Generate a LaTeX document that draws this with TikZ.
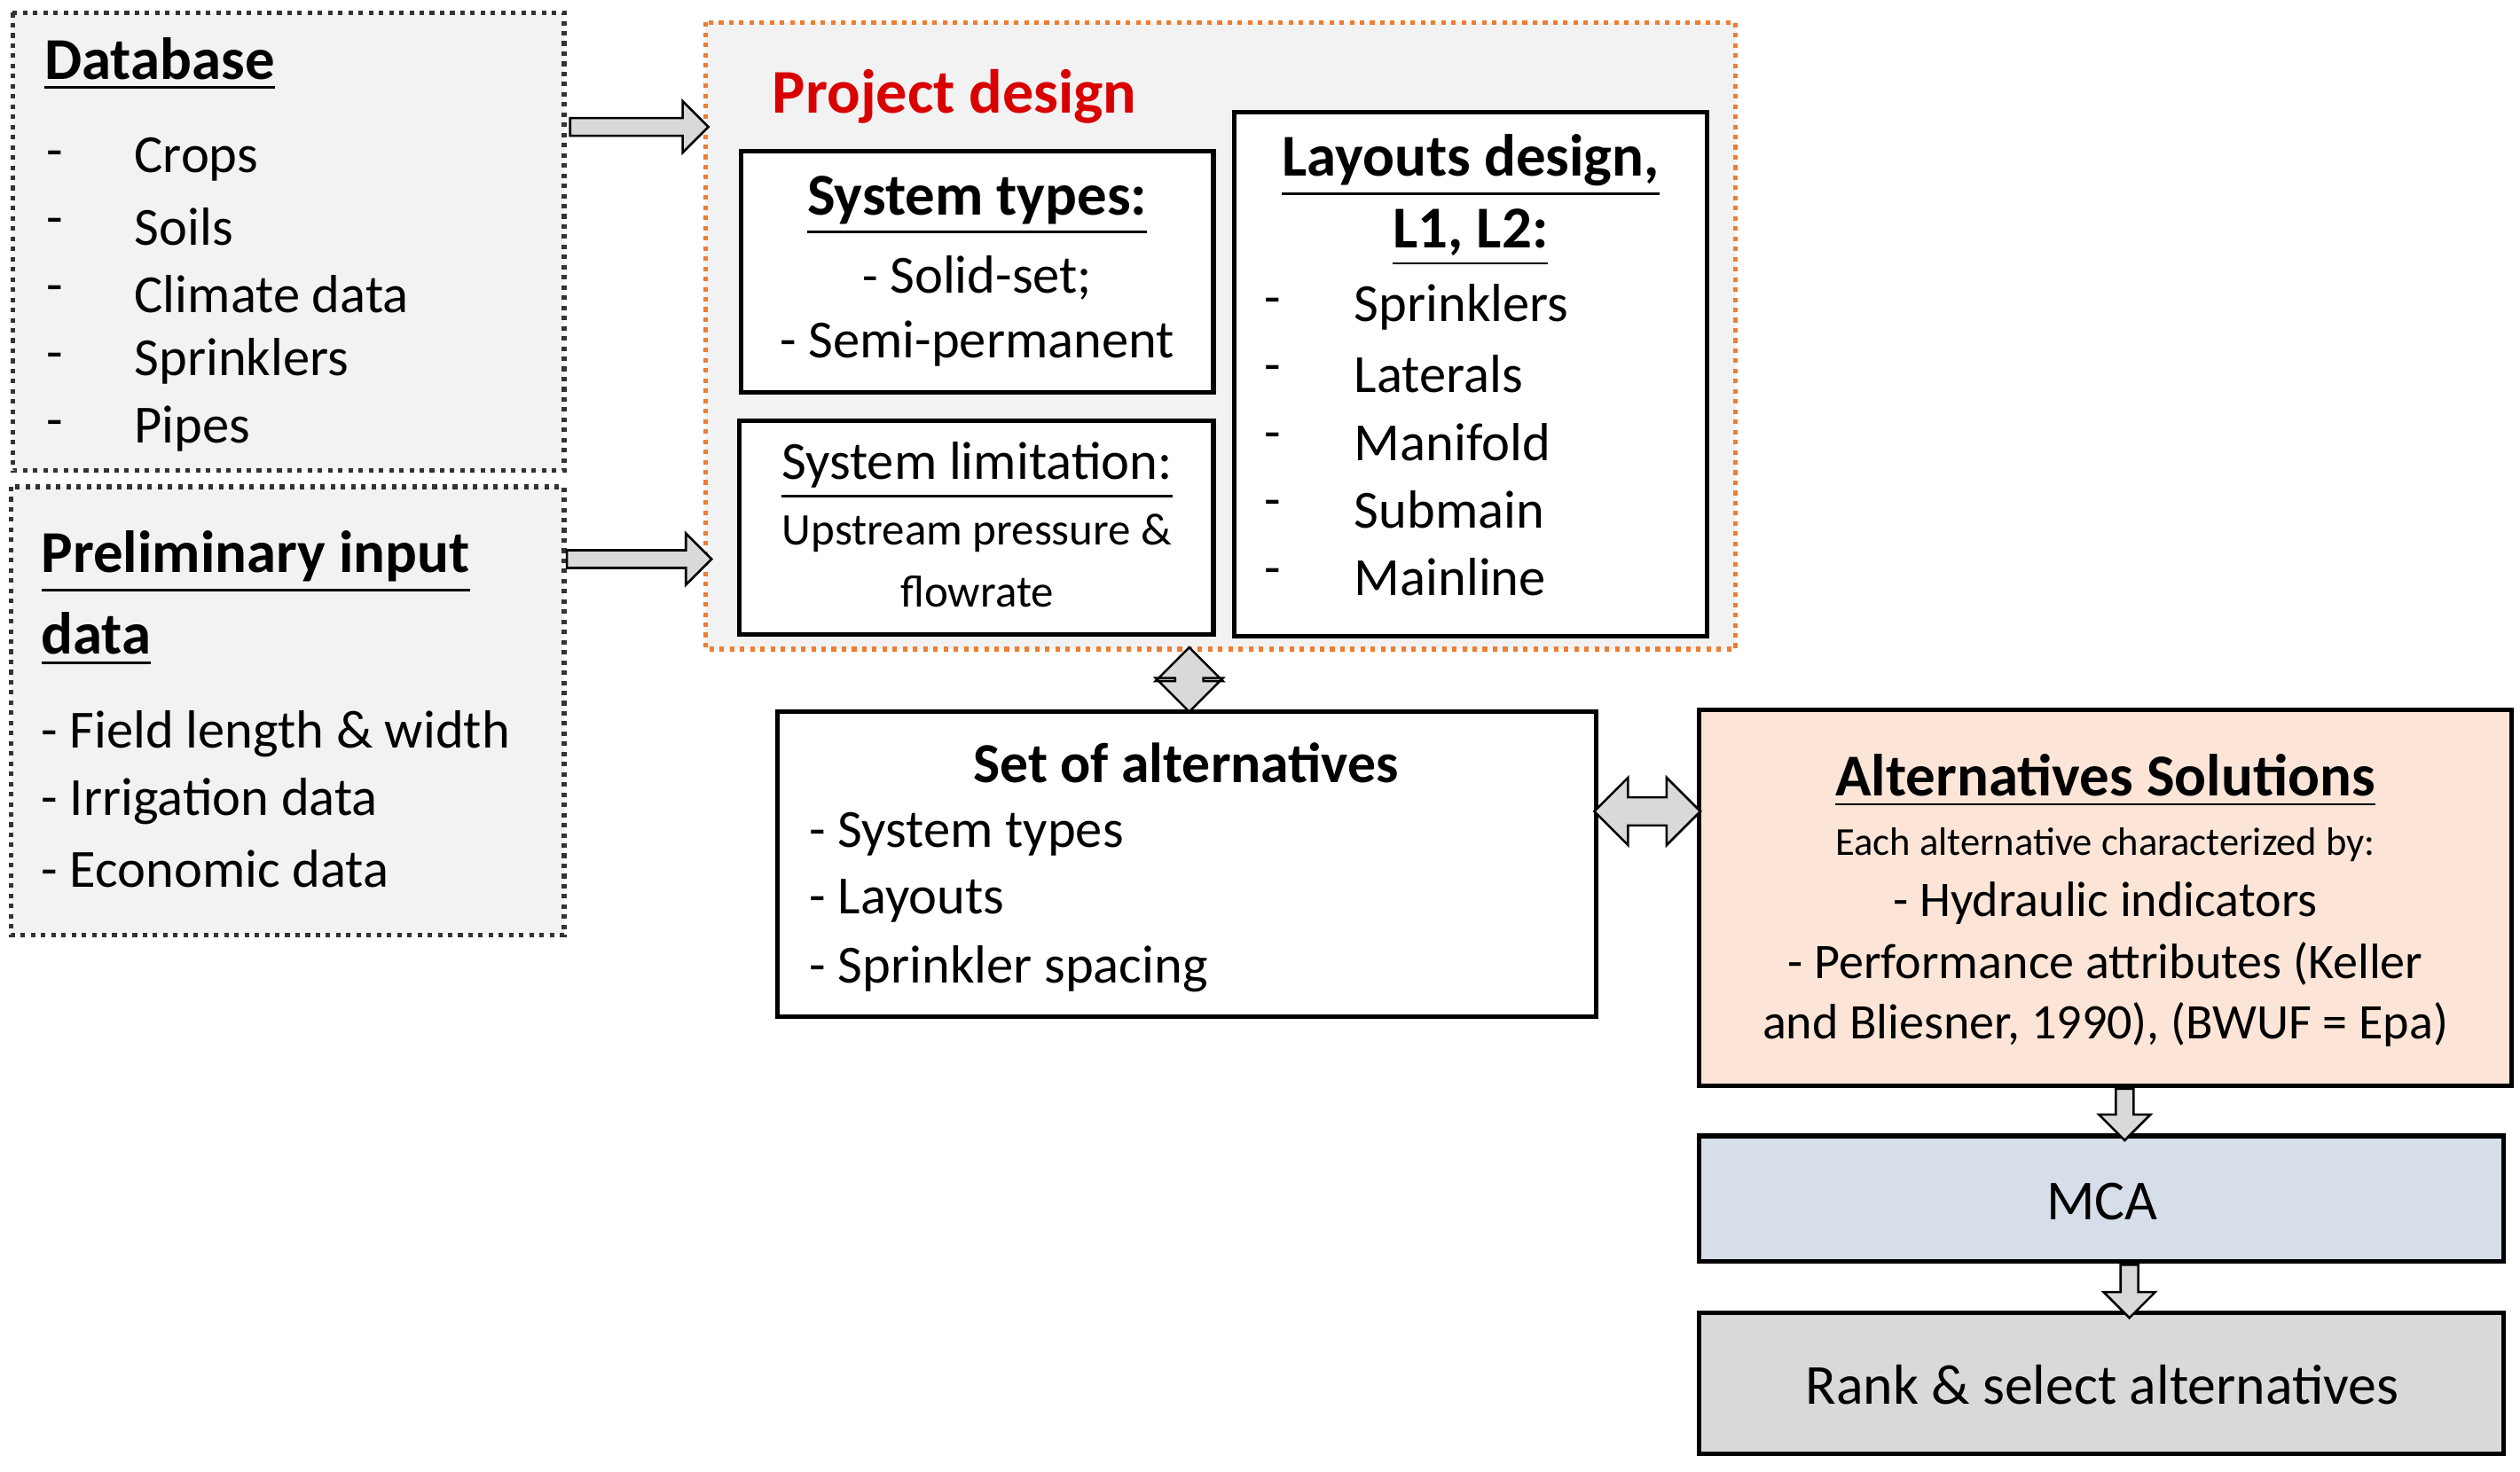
\documentclass[tikz,border=0pt]{standalone}
\usepackage{fontspec}
\setmainfont{Carlito}
\usetikzlibrary{shapes.arrows,calc}
\definecolor{boxgray}{RGB}{242,242,242}
\definecolor{solpeach}{RGB}{252,228,214}
\definecolor{mcablue}{RGB}{214,222,234}
\definecolor{rankgray}{RGB}{217,217,217}
\definecolor{dorange}{RGB}{237,125,49}
\tikzset{
  dotbox/.style={draw=black!80, densely dotted, thick, fill=boxgray},
  plainbox/.style={draw, thick},
  txt/.style={font=\fontsize{9.5}{11}\selectfont, inner sep=0pt},
  small/.style={font=\fontsize{8}{9}\selectfont, inner sep=0pt},
  ttl/.style={font=\fontsize{10.5}{12}\selectfont\bfseries, inner sep=0pt},
  rarrow/.style={single arrow, draw, fill=rankgray, thin, minimum width=0.32cm,
    single arrow head extend=0.08cm, inner sep=0.035cm, text height=0pt, text depth=0pt},
  darrow/.style={double arrow, draw, fill=rankgray, thin, minimum width=0.42cm,
    double arrow head extend=0.08cm, inner sep=0.05cm, text height=0pt, text depth=0pt},
}
\newcommand{\ul}[1]{\underline{#1}}
\begin{document}
\begin{tikzpicture}[x=0.01cm,y=-0.01cm]
    \useasboundingbox (0,0) rectangle (1568,916);

    % Input boxes
    \draw[dotbox] (8,8) rectangle (351,293);
    \node[ttl, anchor=west] at (27,40) {\ul{Database}};
    \foreach \t [count=\i] in {Crops,Soils,Climate data,Sprinklers,Pipes}{
      \node[txt, anchor=west] at (28,57+42*\i) {-};
      \node[txt, anchor=west] at (83,57+42*\i) {\t};
    }
    \draw[dotbox] (7,303) rectangle (351,582);
    \node[ttl, anchor=west] at (25,350) {\ul{Preliminary input}};
    \node[ttl, anchor=west] at (25,398) {\ul{data}};
    \foreach \t [count=\i] in {- Field length \& width,- Irrigation data,- Economic data}{
      \node[txt, anchor=west] at (25,415+42*\i) {\t};
    }

    % Project design
    \draw[draw=dorange, densely dotted, thick, fill=boxgray] (439,14) rectangle (1080,404);
    \node[ttl, anchor=west, text=red!85!black, font=\fontsize{11}{13}\selectfont\bfseries] at (480,60) {Project design};
    \draw[plainbox, fill=white] (461,94) rectangle (755,244);
    \node[ttl] at (608,128) {\ul{System types:}};
    \node[txt] at (608,173) {{\small -} Solid-set;};
    \node[txt] at (608,214) {- Semi-permanent};
    \draw[plainbox, fill=white] (460,262) rectangle (755,395);
    \node[txt] at (608,293) {\ul{System limitation:}};
    \node[small] at (608,332) {Upstream pressure \&};
    \node[small] at (608,368) {flowrate};
    \draw[plainbox, fill=white] (768,70) rectangle (1062,396);
    \node[ttl] at (915,103) {\ul{Layouts design,}};
    \node[ttl] at (915,148) {\ul{L1, L2:}};
    \foreach \t [count=\i] in {Sprinklers,Laterals,Manifold,Submain,Mainline}{
      \node[txt, anchor=west] at (786,149+42*\i) {-};
      \node[txt, anchor=west] at (842,149+42*\i) {\t};
    }

    % Alternatives
    \draw[plainbox] (484,443) rectangle (993,633);
    \node[ttl, font=\fontsize{10}{12}\selectfont\bfseries] at (738,475) {Set of alternatives};
    \foreach \t [count=\i] in {- System types,- Layouts,- Sprinkler spacing}{
      \node[txt, anchor=west] at (503,477+42*\i) {\t};
    }
    \draw[plainbox, fill=solpeach] (1057,442) rectangle (1563,676);
    \node[ttl] at (1310,486) {\ul{Alternatives Solutions}};
    \node[font=\fontsize{7}{8}\selectfont, inner sep=0pt] at (1310,526) {Each alternative characterized by:};
    \node[txt, font=\fontsize{8.8}{10}\selectfont] at (1310,562) {- Hydraulic indicators};
    \node[txt, font=\fontsize{8.8}{10}\selectfont] at (1310,600) {- Performance attributes (Keller};
    \node[txt, font=\fontsize{8.8}{10}\selectfont] at (1310,638) {and Bliesner, 1990), (BWUF = Epa)};
    \draw[plainbox, fill=mcablue] (1057,707) rectangle (1558,785);
    \node[txt, font=\fontsize{10}{12}\selectfont] at (1308,748) {MCA};
    \draw[plainbox, fill=rankgray] (1057,817) rectangle (1558,905);
    \node[txt, font=\fontsize{10}{12}\selectfont] at (1308,862) {Rank \& select alternatives};

    % Block arrows
    \node[rarrow, minimum height=0.86cm] at (395,79) {};
    \node[rarrow, minimum height=0.90cm] at (395,348) {};
    \node[darrow, minimum height=0.40cm, rotate=90] at (740,423) {};
    \node[darrow, minimum height=0.66cm] at (1025,505) {};
    \node[rarrow, minimum height=0.32cm, rotate=-90] at (1322,691) {};
    \node[rarrow, minimum height=0.33cm, rotate=-90] at (1325,801) {};
\end{tikzpicture}
\end{document}
